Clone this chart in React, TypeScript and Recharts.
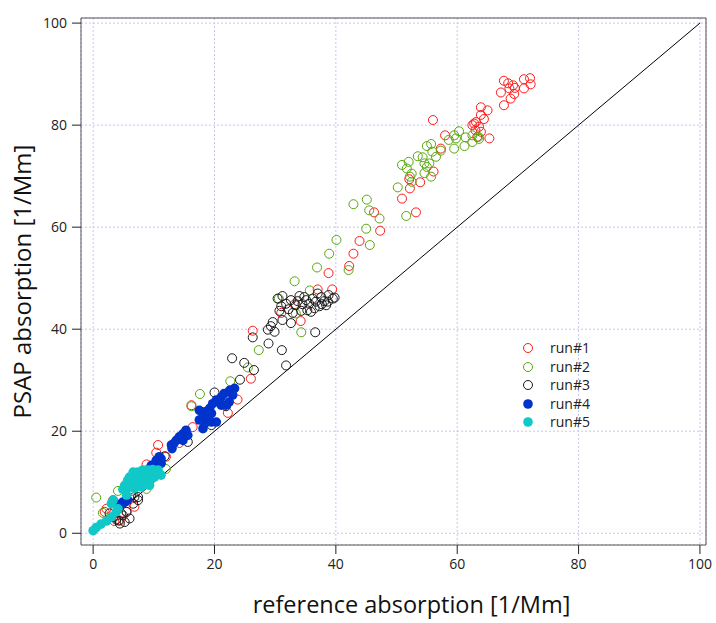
import { ScatterChart, Scatter, XAxis, YAxis, CartesianGrid, ReferenceLine, Legend } from 'recharts';

type Pt = [number, number];

const axisTicks = [0, 20, 40, 60, 80, 100];
const seriesNames = ['run#1', 'run#2', 'run#3', 'run#4', 'run#5'];
const seriesColors = ['#ff1a1a', '#5aa60f', '#1a1a1a', '#0033cc', '#11c8c8'];
const seriesFilled = [false, false, false, true, true];

// run#1 (red, open)
const run1: Pt[] = [
  [72.0, 89.2], [71.0, 89.0], [67.7, 88.7], [68.4, 88.2], [72.1, 88.0], [69.2, 87.8], [69.5, 87.3],
  [68.6, 87.2], [71.0, 87.2], [67.2, 86.4], [69.4, 86.1], [68.8, 85.2], [67.7, 83.9], [63.9, 83.5],
  [65.0, 82.9], [63.9, 82.0], [64.4, 81.2], [56.0, 81.0], [63.1, 80.6], [62.8, 80.3], [62.5, 80.0],
  [63.6, 79.7], [63.0, 79.0], [63.9, 78.7], [58.0, 78.0], [63.3, 77.7], [65.3, 77.4], [57.3, 75.4],
  [56.1, 70.9], [53.9, 68.8], [52.1, 69.4], [52.2, 67.6], [50.9, 65.6], [53.2, 62.9], [46.3, 62.9],
  [47.3, 59.3], [43.9, 57.3], [42.9, 54.8], [42.2, 52.4], [38.8, 51.0], [39.4, 47.8], [37.0, 47.8],
  [33.2, 44.9], [31.0, 43.2], [34.2, 41.6], [26.3, 39.7], [26.0, 30.3], [23.8, 26.2], [16.2, 25.1],
  [22.2, 23.6], [16.4, 20.8], [14.2, 17.7], [10.7, 17.3], [10.4, 15.8], [12.0, 15.0], [8.8, 13.5],
  [6.3, 8.3], [3.3, 6.5], [6.8, 5.2], [2.2, 4.8], [5.5, 4.2], [1.9, 4.2], [4.4, 2.5], [3.5, 2.4],
];

// run#2 (green, open)
const run2: Pt[] = [
  [60.3, 78.8], [59.5, 78.0], [59.8, 77.4], [61.4, 77.6], [62.5, 78.0], [63.5, 77.7], [62.5, 76.7],
  [63.6, 77.3], [61.2, 75.9], [59.5, 75.4], [58.6, 77.1], [55.0, 75.9], [55.7, 76.3], [55.9, 74.8],
  [56.5, 73.8], [57.3, 75.0], [53.5, 73.9], [54.3, 73.7], [52.0, 72.8], [50.9, 72.2], [51.7, 71.5],
  [54.6, 72.5], [55.4, 72.5], [55.0, 71.8], [54.6, 70.6], [55.7, 69.9], [52.5, 70.5], [52.2, 69.9],
  [52.5, 68.9], [50.2, 67.8], [51.6, 62.2], [45.1, 65.4], [42.9, 64.5], [45.5, 63.3], [47.2, 61.7],
  [45.0, 59.7], [45.6, 56.5], [40.1, 57.5], [38.9, 54.8], [36.9, 52.1], [42.1, 51.6], [33.2, 49.4],
  [35.7, 47.6], [30.6, 46.0], [33.4, 43.1], [34.3, 39.4], [27.3, 35.9], [25.5, 32.5], [22.6, 29.8],
  [17.6, 27.3], [16.2, 24.9], [12.0, 12.6], [8.8, 8.7], [4.1, 8.3], [0.5, 7.0], [1.6, 4.0],
];

// run#3 (black, open)
const run3: Pt[] = [
  [30.4, 46.0], [31.2, 46.5], [31.8, 45.0], [31.0, 44.5], [32.6, 45.7], [34.0, 46.5], [33.4, 44.7],
  [34.5, 44.9], [35.1, 45.7], [35.6, 45.0], [36.2, 46.0], [36.7, 45.4], [37.6, 46.3], [38.1, 45.5],
  [38.8, 46.7], [39.8, 46.2], [37.3, 44.5], [36.5, 44.1], [35.3, 43.7], [34.3, 43.6], [32.9, 43.2],
  [32.2, 43.9], [30.7, 43.6], [38.4, 44.7], [33.7, 45.5], [34.8, 46.3], [37.0, 47.0], [38.7, 45.4],
  [35.9, 43.4], [39.5, 46.0], [37.7, 44.9], [31.2, 41.8], [32.6, 41.2], [29.6, 41.4], [29.3, 40.6],
  [29.9, 39.5], [28.8, 39.9], [36.6, 39.4], [26.3, 38.4], [28.9, 37.2], [31.1, 35.9], [22.9, 34.3],
  [24.9, 33.4], [26.5, 32.0], [31.8, 32.9], [24.2, 30.1], [20.0, 27.6], [21.9, 24.9], [19.5, 21.2],
  [15.6, 17.9], [11.8, 15.1], [7.4, 7.1], [6.3, 7.5], [6.8, 7.1], [6.6, 5.8], [7.4, 6.5], [5.5, 4.2],
  [4.9, 3.5], [4.6, 3.9], [3.8, 2.7], [6.0, 2.9], [5.2, 2.2], [4.4, 1.9], [3.3, 3.2], [2.7, 3.9],
  [4.2, 2.5],
];

// run#4 (blue, filled)
const run4: Pt[] = [
  [23.3, 28.4], [22.5, 28.0], [21.6, 27.4], [23.0, 27.1], [21.1, 26.7], [22.4, 25.7], [20.3, 26.1],
  [19.7, 25.4], [21.1, 25.1], [21.9, 25.1], [19.2, 24.5], [18.4, 23.8], [17.5, 24.1], [19.5, 23.5],
  [18.1, 22.8], [17.5, 22.2], [18.6, 22.2], [18.4, 21.5], [19.5, 21.8], [20.3, 21.8], [18.1, 20.5],
  [15.3, 20.2], [14.8, 19.5], [15.6, 19.2], [14.2, 18.9], [13.7, 18.2], [14.8, 18.2], [13.3, 17.6],
  [12.9, 17.3], [13.0, 16.6], [10.9, 15.0], [11.2, 14.6], [10.4, 14.3], [10.7, 14.0], [11.2, 13.7],
  [10.4, 13.7], [9.6, 13.3], [9.3, 12.7], [9.6, 12.7], [5.7, 6.5], [5.2, 6.1], [4.9, 6.1], [4.4, 5.5],
  [4.6, 5.8],
];

// run#5 (cyan, filled)
const run5: Pt[] = [
  [0.0, 0.5], [0.5, 1.1], [1.3, 1.8], [2.2, 2.4], [3.0, 3.2], [3.8, 4.2], [4.1, 4.8], [3.0, 5.8],
  [3.3, 6.5], [5.5, 7.5], [4.9, 8.6], [5.2, 9.4], [5.7, 10.4], [6.0, 11.0], [6.8, 11.6], [7.4, 12.0],
  [8.2, 12.4], [9.0, 12.4], [9.8, 12.5], [10.7, 12.4], [6.3, 9.7], [7.4, 10.1], [8.5, 10.4],
  [9.6, 10.7], [6.8, 8.8], [7.9, 9.1], [9.3, 9.4], [10.1, 11.0], [11.2, 11.4], [6.6, 12.0],
  [7.0, 10.8], [8.0, 11.3], [9.0, 11.6], [10.0, 12.0], [5.8, 9.0], [8.6, 12.0], [7.6, 11.0],
];

const allRuns = [run1, run2, run3, run4, run5];

const toRows = (pts: Pt[]) => pts.map(([x, y]) => ({ x, y }));

const FONT = '"Open Sans", sans-serif';
const tickStyle = { fontSize: 14, fill: '#222', fontFamily: FONT };
const frame = { stroke: '#555', strokeWidth: 1 };
const tickLn = { stroke: '#222', strokeWidth: 1 };

const dotShape = (color: string, filled: boolean) => (p: any) =>
  filled
    ? <circle cx={p.cx} cy={p.cy} r={4.8} fill={color} stroke="none" />
    : <circle cx={p.cx} cy={p.cy} r={4.5} fill="none" stroke={color} strokeWidth={1} />;

function LegendBox() {
  return (
    <div style={{ fontFamily: FONT, fontSize: 14, color: '#222' }}>
      {seriesNames.map((name, i) => (
        <div key={name} style={{ display: 'flex', alignItems: 'center', height: 18.5 }}>
          <svg width={20} height={18}>
            {seriesFilled[i]
              ? <circle cx={10} cy={9} r={4.8} fill={seriesColors[i]} />
              : <circle cx={10} cy={9} r={4.5} fill="none" stroke={seriesColors[i]} />}
          </svg>
          <span style={{ marginLeft: 12, lineHeight: '18px' }}>{name}</span>
        </div>
      ))}
    </div>
  );
}

const XTitle = (props: any) => {
  const vb = props.viewBox;
  return (
    <text x={vb.x + vb.width / 2 + 18} y={vb.y + 68} textAnchor="middle"
      style={{ fontFamily: FONT, fontSize: 23.5, fill: '#111' }}>
      reference absorption [1/Mm]
    </text>
  );
};

const YTitle = (props: any) => {
  const vb = props.viewBox;
  const cx = 31;
  const cy = vb.y + vb.height / 2;
  return (
    <text x={cx} y={cy} textAnchor="middle" transform={`rotate(-90, ${cx}, ${cy})`}
      style={{ fontFamily: FONT, fontSize: 24, fill: '#111' }}>
      PSAP absorption [1/Mm]
    </text>
  );
};

export default function App() {
  return (
    <div style={{ position: 'absolute', left: 0, top: 0, width: 716, height: 623, background: '#fff' }}>
      <ScatterChart width={716} height={623} margin={{ top: 0, right: 0, bottom: 0, left: 0 }}>
        <CartesianGrid stroke="#c6c6f2" strokeDasharray="2 2" />
        <XAxis
          dataKey="x" type="number" domain={[-2, 101]} ticks={axisTicks} allowDataOverflow
          height={78} tickSize={9} tickMargin={5} tick={tickStyle}
          axisLine={frame} tickLine={tickLn} label={<XTitle />}
        />
        <XAxis
          xAxisId="top" orientation="top" type="number" domain={[-2, 101]} ticks={axisTicks}
          allowDataOverflow height={18} tickSize={9} tick={false} axisLine={frame} tickLine={tickLn}
        />
        <YAxis
          dataKey="y" type="number" domain={[-2.3, 101]} ticks={axisTicks} allowDataOverflow
          width={81} tickSize={9} tickMargin={5} tick={tickStyle}
          axisLine={frame} tickLine={tickLn} label={<YTitle />}
        />
        <YAxis
          yAxisId="right" orientation="right" type="number" domain={[-2.3, 101]} ticks={axisTicks}
          allowDataOverflow width={10} tickSize={9} tick={false} axisLine={frame} tickLine={tickLn}
        />
        <ReferenceLine segment={[{ x: 0, y: 0 }, { x: 100, y: 100 }]} stroke="#000" strokeWidth={1} />
        {allRuns.map((run, i) => (
          <Scatter
            key={seriesNames[i]}
            name={seriesNames[i]}
            data={toRows(run)}
            fill={seriesColors[i]}
            shape={dotShape(seriesColors[i], seriesFilled[i])}
            isAnimationActive={false}
          />
        ))}
        <Legend
          layout="vertical" align="center" verticalAlign="middle"
          content={() => <LegendBox />}
          wrapperStyle={{ left: 518, top: 339, width: 90, height: 95 }}
        />
      </ScatterChart>
    </div>
  );
}
